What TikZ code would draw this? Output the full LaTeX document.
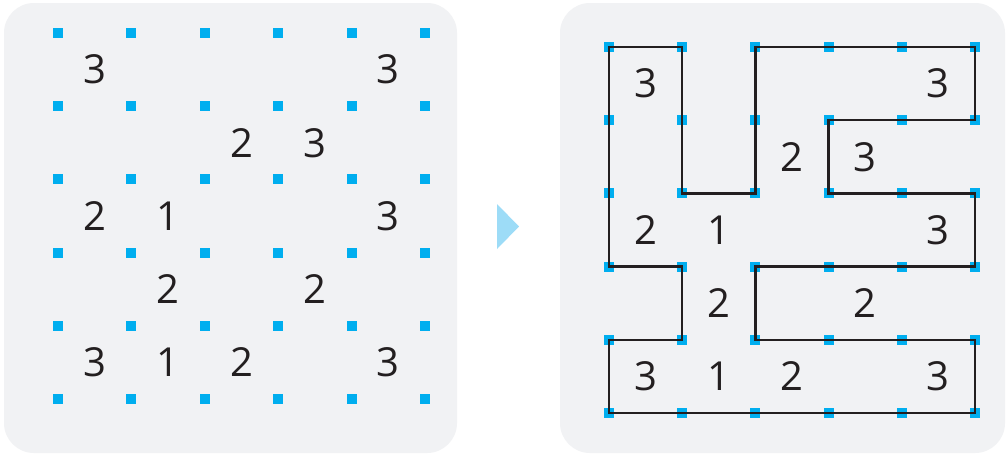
\documentclass[tikz,border=0pt]{standalone}
\usepackage{fontspec}
\setmainfont{Open Sans}
\definecolor{panel}{HTML}{F1F2F4}
\definecolor{dotc}{HTML}{00AEEF}
\definecolor{arrowc}{HTML}{9DDCF7}
\definecolor{linec}{HTML}{231F20}
\tikzset{
  panelbox/.style={fill=panel, draw=none, rounded corners=30pt},
  gdot/.style={fill=dotc, draw=none, minimum size=10pt, inner sep=0pt, rectangle},
  num/.style={font=\fontsize{40}{40}\selectfont, text=linec, inner sep=0pt},
  loopline/.style={draw=linec, line width=2.4pt, line join=miter}
}
\begin{document}
\begin{tikzpicture}[x=1pt,y=-1pt]
\useasboundingbox (0,0) rectangle (1007,456);
\fill[white] (0,0) rectangle (1007,456);
\path[panelbox] (4,3) rectangle (457,453);
\path[panelbox] (560,3) rectangle (1005,453);
\fill[arrowc] (497,204) -- (519,226.5) -- (497,249) -- cycle;
% grids
\foreach \i in {0,...,5}{
  \foreach \j in {0,...,5}{
    \node[gdot] (L\i\j) at ({58+73.4*\i},{33+73.2*\j}) {};
    \node[gdot] (R\i\j) at ({609+73.2*\i},{47+73.2*\j}) {};
  }
}
% right loop
\draw[loopline] (R00.center) -- (R10.center) -- (R12.center) -- (R22.center) -- (R20.center)
  -- (R50.center) -- (R51.center) -- (R31.center) -- (R32.center) -- (R52.center)
  -- (R53.center) -- (R23.center) -- (R24.center) -- (R54.center) -- (R55.center)
  -- (R05.center) -- (R04.center) -- (R14.center) -- (R13.center) -- (R03.center) -- cycle;
% numbers
\foreach \c/\r/\v [count=\k] in {0/0/3,4/0/3,2/1/2,3/1/3,0/2/2,1/2/1,4/2/3,1/3/2,3/3/2,0/4/3,1/4/1,2/4/2,4/4/3}{
  \node[num] (ln\k) at ({94.7+73.4*\c},{69.6+73.2*\r}) {\v};
  \node[num] (rn\k) at ({645.6+73.2*\c},{83.6+73.2*\r}) {\v};
}
\end{tikzpicture}
\end{document}
